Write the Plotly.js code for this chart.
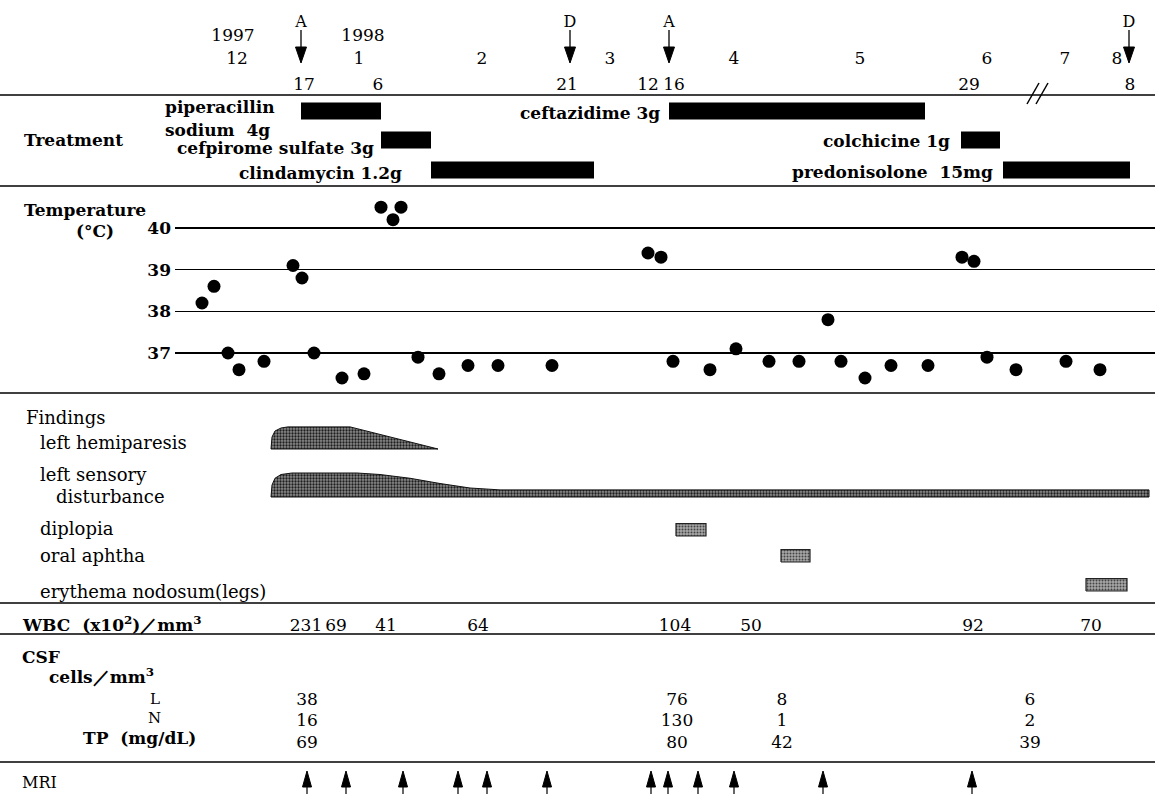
<!DOCTYPE html>
<html><head><meta charset="utf-8">
<script src="https://cdn.plot.ly/plotly-3.0.1.min.js"></script>
<style>html,body{margin:0;padding:0;background:#fff}#chart{width:1155px;height:794px}</style>
</head><body><div id="chart"></div>
<script>
const yearLabels = ['1997', '1998'];
const yearPos = [233, 363];
const monthLabels = ['12', '1', '2', '3', '4', '5', '6', '7', '8'];
const monthPos = [237, 359, 482, 610, 734, 860, 987, 1065, 1117];
const dayLabels = ['17', '6', '21', '12', '16', '29', '8'];
const dayPos = [304, 378, 567, 648, 674, 969, 1130];
const eventLabels = ['A', 'D', 'A', 'D'];
const eventPos = [301, 570, 669, 1129];

const drugNames = ['piperacillin', 'cefpirome sulfate 3g', 'clindamycin 1.2g', 'ceftazidime 3g', 'colchicine 1g', 'predonisolone 15mg'];
const drugStart = [301, 381, 431, 669, 961, 1003];
const drugEnd = [381, 431, 594, 925, 1000, 1130];
const drugRow = [0, 1, 2, 0, 1, 2];

const tempPos = [202, 214, 228, 239, 264, 293, 302, 314, 342, 364, 381, 393, 401, 418, 439, 468, 498, 552,
                 648, 661, 673, 710, 736, 769, 799, 828, 841, 865, 891, 928, 962, 974, 987, 1016, 1066, 1100];
const tempC = [38.2, 38.6, 37.0, 36.6, 36.8, 39.1, 38.8, 37.0, 36.4, 36.5, 40.5, 40.2, 40.5, 36.9, 36.5, 36.7, 36.7, 36.7,
               39.4, 39.3, 36.8, 36.6, 37.1, 36.8, 36.8, 37.8, 36.8, 36.4, 36.7, 36.7, 39.3, 39.2, 36.9, 36.6, 36.8, 36.6];

const findingNames = ['left hemiparesis', 'left sensory disturbance', 'diplopia', 'oral aphtha', 'erythema nodosum(legs)'];
const hemiPos = [271, 272, 275, 281, 288, 350, 438];
const hemiGrade = [0, 1.6, 2.4, 2.8, 2.95, 2.95, 0];
const sensoryPos = [271, 272, 275, 281, 292, 357, 380, 410, 440, 470, 500, 1149, 1149];
const sensoryGrade = [0, 1.6, 2.5, 3.0, 3.2, 3.2, 3.0, 2.5, 1.8, 1.2, 0.95, 0.95, 0];
const diplopiaSpan = [676, 706];
const aphthaSpan = [781, 810];
const erythemaSpan = [1086, 1127];
const episodeGrade = 1.65;

const wbcPos = [306, 336, 386, 478, 675, 751, 973, 1091];
const wbcVals = ['231', '69', '41', '64', '104', '50', '92', '70'];
const csfPos = [307, 677, 782, 1030];
const csfL = [38, 76, 8, 6];
const csfN = [16, 130, 1, 2];
const csfTP = [69, 80, 42, 39];
const mriPos = [307, 346, 403, 458, 487, 547, 651, 668, 698, 734, 823, 972];

// ===== LAYOUT CONSTANTS =====
const W = 1155, H = 794;
const FONT = 'DejaVu Serif';
const rowY = [111, 140, 170];
const gradePx = 7.5;
const findBase = [449, 497, 536, 562, 591];

const traces = [];
const txt = (x, y, labels, size, extra) => Object.assign({
  type: 'scatter', mode: 'text', x: x, y: y, text: labels, textposition: 'middle center',
  textfont: {family: FONT, size: size, color: '#000'}, hoverinfo: 'skip', xaxis: 'x', yaxis: 'y'
}, extra || {});

// header
traces.push(txt(yearPos, yearPos.map(() => 37), yearLabels, 17));
traces.push(txt(monthPos, monthPos.map(() => 60), monthLabels, 17));
traces.push(txt(dayPos, dayPos.map(() => 86), dayLabels, 17));
traces.push(txt(eventPos, eventPos.map(() => 23), eventLabels, 16));
// event arrows
(function () {
  const sx = [], sy = [], hx = [], hy = [];
  eventPos.forEach(p => {
    sx.push(p, p, null); sy.push(30, 50, null);
    hx.push(p - 5.5, p + 5.5, p, p - 5.5, null); hy.push(47, 47, 63, 47, null);
  });
  traces.push({type: 'scatter', mode: 'lines', x: sx, y: sy, line: {color: '#000', width: 1.3}, hoverinfo: 'skip', xaxis: 'x', yaxis: 'y'});
  traces.push({type: 'scatter', mode: 'lines', x: hx, y: hy, fill: 'toself', fillcolor: '#000', line: {color: '#000', width: 1}, hoverinfo: 'skip', xaxis: 'x', yaxis: 'y'});
})();

// treatment bars
traces.push({
  type: 'bar', orientation: 'h', base: drugStart, x: drugEnd.map((e, i) => e - drugStart[i]),
  y: drugRow.map(r => rowY[r]), width: drugRow.map(() => 17), marker: {color: '#000', line: {width: 0}},
  hoverinfo: 'skip', xaxis: 'x', yaxis: 'y'
});

// temperature
traces.push({
  type: 'scatter', mode: 'markers', x: tempPos, y: tempC, marker: {color: '#000', size: 13},
  hoverinfo: 'skip', xaxis: 'x2', yaxis: 'y2'
});

// findings profiles
function profile(pos, grade, base) {
  const x = pos.slice(), y = grade.map(g => base - g * gradePx);
  x.push(pos[0]); y.push(base);
  return {x, y};
}
function boxShape(span, base) {
  return profile([span[0], span[0], span[1], span[1]], [0, episodeGrade, episodeGrade, 0], base);
}
const hemi = profile(hemiPos, hemiGrade, findBase[0]);
const sens = profile(sensoryPos, sensoryGrade, findBase[1]);
[hemi, sens].forEach(p => traces.push({
  type: 'scatter', mode: 'lines', x: p.x, y: p.y, fill: 'toself', fillcolor: '#6e6e6e',
  fillpattern: {shape: '.', fgcolor: '#1e1e1e', bgcolor: '#8a8a8a', size: 3, solidity: 0.45},
  line: {color: '#111', width: 1}, hoverinfo: 'skip', xaxis: 'x', yaxis: 'y'
}));
[boxShape(diplopiaSpan, findBase[2]), boxShape(aphthaSpan, findBase[3]), boxShape(erythemaSpan, findBase[4])].forEach(p => traces.push({
  type: 'scatter', mode: 'lines', x: p.x, y: p.y, fill: 'toself', fillcolor: '#a0a0a0',
  fillpattern: {shape: '.', fgcolor: '#444', bgcolor: '#a8a8a8', size: 3, solidity: 0.35},
  line: {color: '#222', width: 1.2}, hoverinfo: 'skip', xaxis: 'x', yaxis: 'y'
}));

// WBC, CSF
traces.push(txt(wbcPos, wbcPos.map(() => 627), wbcVals, 17));
traces.push(txt(csfPos, csfPos.map(() => 701), csfL.map(String), 17));
traces.push(txt(csfPos, csfPos.map(() => 722), csfN.map(String), 17));
traces.push(txt(csfPos, csfPos.map(() => 744), csfTP.map(String), 17));

// MRI arrows
(function () {
  const sx = [], sy = [], hx = [], hy = [];
  mriPos.forEach(p => {
    sx.push(p, p, null); sy.push(784, 794, null);
    hx.push(p - 4.5, p + 4.5, p, p - 4.5, null); hy.push(787, 787, 771, 787, null);
  });
  traces.push({type: 'scatter', mode: 'lines', x: sx, y: sy, line: {color: '#000', width: 1.2}, hoverinfo: 'skip', xaxis: 'x', yaxis: 'y'});
  traces.push({type: 'scatter', mode: 'lines', x: hx, y: hy, fill: 'toself', fillcolor: '#000', line: {color: '#000', width: 1}, hoverinfo: 'skip', xaxis: 'x', yaxis: 'y'});
})();

// ===== annotations (labels) =====
const ann = [];
const lab = (x, y, text, size, anchor, bold) => ann.push({
  x: x, y: y, xref: 'x', yref: 'y', text: text, showarrow: false, xanchor: anchor || 'left', yanchor: 'middle',
  font: {family: FONT, size: size, color: '#000', weight: bold ? 'bold' : 'normal'}
});
lab(22, 140, 'Treatment', 17, 'left', true);
lab(163, 107, drugNames[0], 17, 'left', true);
lab(163, 130, 'sodium  4g', 17, 'left', true);
lab(376, 148, drugNames[1], 17, 'right', true);
lab(404, 173, drugNames[2], 17, 'right', true);
lab(662, 113, drugNames[3], 17, 'right', true);
lab(952, 141, drugNames[4], 17, 'right', true);
lab(995, 172, drugNames[5].replace(' ', '  '), 17, 'right', true);

lab(22, 210, 'Temperature', 17, 'left', true);
lab(74, 231, '(°C)', 17, 'left', true);

lab(24, 417, 'Findings', 18, 'left', false);
lab(38, 442, findingNames[0], 18, 'left', false);
lab(38, 474, 'left sensory', 18, 'left', false);
lab(54, 496, 'disturbance', 18, 'left', false);
lab(38, 528, findingNames[2], 18, 'left', false);
lab(38, 555, findingNames[3], 18, 'left', false);
lab(38, 591, findingNames[4], 18, 'left', false);

lab(20, 624, 'WBC  (x10<sup>2</sup>)／mm<sup>3</sup>', 17, 'left', true);
lab(20, 657, 'CSF', 17, 'left', true);
lab(47, 676, 'cells／mm<sup>3</sup>', 17, 'left', true);
lab(148, 699, 'L', 15, 'left', false);
lab(146, 718, 'N', 15, 'left', false);
lab(81, 738, 'TP  (mg/dL)', 17, 'left', true);
lab(20, 782, 'MRI', 16, 'left', false);

// ===== shapes: rules =====
const shapes = [95, 186, 393, 603, 634, 762].map(y => ({
  type: 'line', xref: 'paper', yref: 'y', x0: 0, x1: 1, y0: y, y1: y, line: {color: '#000', width: 1.6}
}));
shapes.push({type: 'line', xref: 'x', yref: 'y', x0: 1027, y0: 104, x1: 1039, y1: 83, line: {color: '#000', width: 1.5}});
shapes.push({type: 'line', xref: 'x', yref: 'y', x0: 1036, y0: 104, x1: 1048, y1: 83, line: {color: '#000', width: 1.5}});

const yT0 = 353 + 41.667, yT1 = 228 - 41.667;
const layout = {
  width: W, height: H, margin: {l: 0, r: 0, t: 0, b: 0, pad: 0},
  paper_bgcolor: '#fff', plot_bgcolor: 'rgba(0,0,0,0)', showlegend: false, barmode: 'overlay',
  xaxis: {domain: [0, 1], range: [0, W], visible: false, fixedrange: true},
  yaxis: {domain: [0, 1], range: [H, 0], visible: false, fixedrange: true},
  xaxis2: {domain: [175 / W, 1], range: [175, W], visible: false, anchor: 'y2'},
  yaxis2: {
    domain: [1 - yT0 / H, 1 - yT1 / H], range: [36, 41], anchor: 'x2',
    tickvals: [37, 38, 39, 40], ticktext: ['37', '38', '39', '40'], showgrid: true, gridcolor: '#000', gridwidth: 1.5,
    zeroline: false, showline: false, ticks: '', ticklabelstandoff: 3,
    tickfont: {family: FONT, size: 17, color: '#000', weight: 'bold'}
  },
  annotations: ann, shapes: shapes
};
Plotly.newPlot('chart', traces, layout, {staticPlot: true, displayModeBar: false});
</script></body></html>
